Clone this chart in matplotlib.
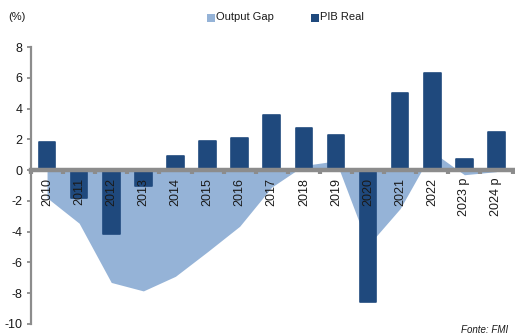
import matplotlib
matplotlib.use("Agg")
import matplotlib.pyplot as plt
from matplotlib.patches import Rectangle
import numpy as np

plt.rcParams['font.family'] = ['Liberation Sans', 'DejaVu Sans']

years = ["2010", "2011", "2012", "2013", "2014", "2015", "2016", "2017",
         "2018", "2019", "2020", "2021", "2022", "2023 p", "2024 p"]
pib_real = [1.8, -1.8, -4.15, -1.05, 0.9, 1.9, 2.1, 3.6,
            2.75, 2.25, -8.6, 5.0, 6.3, 0.75, 2.45]
output_gap = [-1.8, -3.45, -7.3, -7.85, -6.9, -5.3, -3.65, -1.1,
              0.3, 0.6, -4.9, -2.5, 1.2, -0.3, -0.1]
y_ticks = [8, 6, 4, 2, 0, -2, -4, -6, -8, -10]

gap_color = "#95b3d7"
pib_color = "#1f497d"
axis_grey = "#8c8c8c"

fig = plt.figure(figsize=(5.15, 3.36), dpi=100)
ax = fig.add_axes([31 / 515, 1 - 324 / 336, 481.5 / 515, 277 / 336])

x = np.arange(len(years))
ax.fill_between(x, output_gap, 0, color=gap_color, linewidth=0, zorder=0.5)
ax.bar(x, pib_real, width=0.52, color=pib_color, edgecolor=pib_color,
       linewidth=1.2, joinstyle="round", zorder=1)

ax.set_xlim(-0.5, len(years) - 0.5)
ax.set_ylim(-10, 8)

for side in ("top", "right"):
    ax.spines[side].set_visible(False)
ax.spines["left"].set_color(axis_grey)
ax.spines["left"].set_linewidth(1.6)
ax.spines["bottom"].set_position(("data", 0))
ax.spines["bottom"].set_color(axis_grey)
ax.spines["bottom"].set_linewidth(3.2)
ax.spines["bottom"].set_zorder(5)
ax.xaxis.set_zorder(4)
ax.yaxis.set_zorder(4)

ax.set_yticks(y_ticks)
ax.set_yticklabels([str(v) for v in y_ticks])
ax.tick_params(axis="y", direction="out", length=3, width=1.3,
               color=axis_grey, labelsize=9, pad=3, labelcolor="#1a1a1a")

ax.set_xticks(x)
ax.set_xticklabels(years, rotation=90, va="top", ha="center")
ax.tick_params(axis="x", which="major", length=0, pad=5.5,
               labelsize=9, labelcolor="#1a1a1a")
ax.set_xticks(np.arange(len(years) + 1) - 0.5, minor=True)
ax.tick_params(axis="x", which="minor", direction="out", length=3.2,
               width=3, color=axis_grey)

fig.text(8 / 515, 1 - 17 / 336, "(%)", fontsize=8, va="center",
         color="#1a1a1a")

legend_items = [("Output Gap", gap_color, 207), ("PIB Real", pib_color, 311)]
for label, color, px in legend_items:
    fig.patches.append(Rectangle((px / 515, 1 - 21.5 / 336), 7.5 / 515,
                                 7.5 / 336, transform=fig.transFigure,
                                 facecolor=color, edgecolor="none"))
    fig.text((px + 9) / 515, 1 - 17.5 / 336, label, fontsize=8,
             va="center", color="#1a1a1a")

fig.text(508 / 515, 1 - 330 / 336, "Fonte: FMI", fontsize=7,
         style="italic", ha="right", va="center", color="#1a1a1a")

fig.savefig("out.png", dpi=100)
